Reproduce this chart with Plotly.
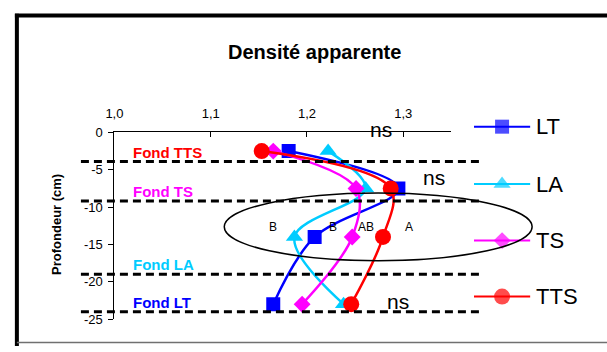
import plotly.graph_objects as go

# Profondeur des horizons (cm) et densité apparente par traitement
depth = [-2.5, -7.5, -14, -23]
series_names = ["LT", "LA", "TS", "TTS"]
lt = [1.181, 1.295, 1.208, 1.165]
la = [1.222, 1.261, 1.187, 1.238]
ts = [1.165, 1.251, 1.247, 1.195]
tts = [1.153, 1.287, 1.279, 1.246]

# Profondeur du fond de travail du sol pour chaque traitement
fond_labels = ["Fond TTS", "Fond TS", "Fond LA", "Fond LT"]
fond_depths = [-3.9, -9.2, -19.0, -24.0]

# Lettres de significativité (horizon 10-18 cm) et mentions "ns"
sig_letters = ["B", "B", "AB", "A"]
sig_x = [1.165, 1.227, 1.261, 1.306]
sig_y = -12.7
ns_x = [1.277, 1.332, 1.295]
ns_y = [0.0, -6.0, -22.7]
ns_shift = [3, 0, 0]

x_ticks = [1.0, 1.1, 1.2, 1.3]
x_ticktext = ["1,0", "1,1", "1,2", "1,3"]
y_ticks = [0, -5, -10, -15, -20, -25]
y_ticktext = ["0", "-5", "-10", "-15", "-20", "-25"]

W, H = 607, 352
FONT = "Arial, Liberation Sans, sans-serif"

colors = {"LT": "#0000FF", "LA": "#00CCFF", "TS": "#FF00FF", "TTS": "#FF0000"}
symbols = {"LT": "square", "LA": "triangle-up", "TS": "diamond", "TTS": "circle"}
msizes = {"LT": 14, "LA": 15, "TS": 13, "TTS": 16}
values = {"LT": lt, "LA": la, "TS": ts, "TTS": tts}
fond_colors = [colors["TTS"], colors["TS"], colors["LA"], colors["LT"]]


def px(x):
    return x / W


def py(y):
    return 1 - y / H


fig = go.Figure()

for name in series_names:
    fig.add_trace(go.Scatter(
        x=values[name], y=depth, name=name, mode="lines+markers",
        line=dict(color=colors[name], width=2.5, shape="spline", smoothing=1.0),
        marker=dict(symbol=symbols[name], size=msizes[name], color=colors[name],
                    line=dict(width=0)),
        showlegend=False, hoverinfo="skip",
    ))

# Légende dessinée dans un repère en pixels couvrant toute la figure
leg_y = [125, 185, 244, 302.5]
for name, ly in zip(series_names, leg_y):
    fig.add_trace(go.Scatter(
        x=[472, 500.5, 529], y=[ly, ly, ly], mode="lines+markers",
        xaxis="x2", yaxis="y2",
        line=dict(color=colors[name], width=2),
        marker=dict(symbol=symbols[name], size=[0, msizes[name], 0],
                    color=colors[name], line=dict(width=0)),
        showlegend=False, hoverinfo="skip",
    ))

shapes = []
# Lignes pointillées des fonds de travail
for d in fond_depths:
    shapes.append(dict(type="line", xref="paper", yref="y",
                       x0=px(73), x1=px(482), y0=d, y1=d,
                       line=dict(color="black", width=3, dash="8px,5px")))
# Ellipse autour de l'horizon significatif
shapes.append(dict(type="circle", xref="paper", yref="paper",
                   x0=px(218.5), x1=px(531), y0=py(265), y1=py(194.3),
                   line=dict(color="black", width=1.5)))
# Cadre
shapes.append(dict(type="line", xref="paper", yref="paper",
                   x0=px(6), x1=px(W + 2), y0=py(9), y1=py(9),
                   line=dict(color="black", width=4)))
shapes.append(dict(type="line", xref="paper", yref="paper",
                   x0=px(8), x1=px(8), y0=py(7), y1=py(H + 2),
                   line=dict(color="black", width=4)))
shapes.append(dict(type="line", xref="paper", yref="paper",
                   x0=px(8), x1=px(W + 2), y0=py(350.5), y1=py(350.5),
                   line=dict(color="#707070", width=1.5)))

annotations = []
annotations.append(dict(text="Densité apparente", xref="paper", yref="paper",
                        x=px(310), y=py(47), showarrow=False,
                        xanchor="center", yanchor="middle",
                        font=dict(family=FONT, size=20, color="black", weight="bold")))
annotations.append(dict(text="Profondeur (cm)", xref="paper", yref="paper",
                        x=px(48.3), y=py(227), showarrow=False, textangle=-90,
                        xanchor="center", yanchor="middle",
                        font=dict(family=FONT, size=13, color="black", weight="bold")))
for lab, d, c in zip(fond_labels, fond_depths, fond_colors):
    annotations.append(dict(text=lab, xref="paper", yref="y",
                            x=px(124), y=d, yshift=9.5, showarrow=False,
                            xanchor="left", yanchor="middle",
                            font=dict(family=FONT, size=15, color=c, weight="bold")))
for lab, xv in zip(sig_letters, sig_x):
    annotations.append(dict(text=lab, xref="x", yref="y", x=xv, y=sig_y,
                            showarrow=False, xanchor="center", yanchor="middle",
                            font=dict(family=FONT, size=12, color="black")))
for xv, yv, sh in zip(ns_x, ns_y, ns_shift):
    annotations.append(dict(text="ns", xref="x", yref="y", x=xv, y=yv, yshift=sh,
                            showarrow=False, xanchor="center", yanchor="middle",
                            font=dict(family=FONT, size=21, color="black")))
for name, ly in zip(series_names, leg_y):
    annotations.append(dict(text=name, xref="paper", yref="paper",
                            x=px(533), y=py(ly), showarrow=False,
                            xanchor="left", yanchor="middle",
                            font=dict(family=FONT, size=22, color="black")))

fig.update_layout(
    width=W, height=H,
    margin=dict(l=0, r=0, t=0, b=0),
    paper_bgcolor="white", plot_bgcolor="rgba(0,0,0,0)",
    font=dict(family=FONT, color="black"),
    showlegend=False,
    xaxis=dict(domain=[px(107), px(449)], range=[1.0, 1.35], side="top",
               anchor="y", showgrid=False, zeroline=False,
               showline=True, linecolor="black", linewidth=1,
               ticks="inside", ticklen=5, tickcolor="black",
               tickvals=x_ticks, ticktext=x_ticktext,
               tickfont=dict(family=FONT, size=13, color="black"),
               ticklabelstandoff=8, fixedrange=True),
    yaxis=dict(domain=[py(326), py(131)], range=[-25, 0], anchor="x",
               showgrid=False, zeroline=False,
               showline=True, linecolor="black", linewidth=1,
               ticks="outside", ticklen=5, tickcolor="black",
               tickvals=y_ticks, ticktext=y_ticktext,
               tickfont=dict(family=FONT, size=13, color="black"),
               ticklabelstandoff=3, fixedrange=True),
    xaxis2=dict(domain=[0, 1], range=[0, W], anchor="y2", visible=False,
                fixedrange=True),
    yaxis2=dict(domain=[0, 1], range=[H, 0], anchor="x2", visible=False,
                fixedrange=True),
    shapes=shapes,
    annotations=annotations,
)

fig.write_html("out.html")
